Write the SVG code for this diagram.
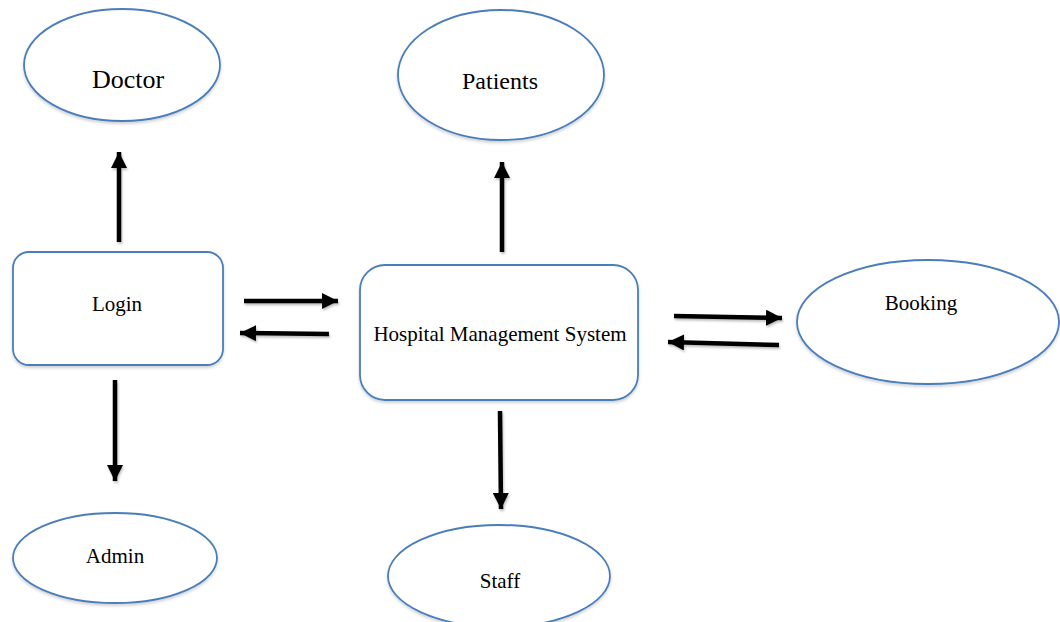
<svg xmlns="http://www.w3.org/2000/svg" width="1060" height="622" viewBox="0 0 1060 622">
<style>
.shape{fill:#fff;stroke:#4a7ebb;stroke-width:1.8;filter:url(#sh)}
.lbl{font-family:"Liberation Serif","Times New Roman",serif;fill:#000;text-anchor:middle;font-size:21px}
.arr{stroke:#000;stroke-width:4.5;fill:none;marker-end:url(#ah)}
</style>
<defs>
<filter id="sh" x="-10%" y="-10%" width="120%" height="130%"><feDropShadow dx="0" dy="2" stdDeviation="1.5" flood-color="#000" flood-opacity="0.18"/></filter>
<filter id="sh2" filterUnits="userSpaceOnUse" x="0" y="0" width="1060" height="622"><feDropShadow dx="1" dy="2" stdDeviation="1.2" flood-color="#000" flood-opacity="0.25"/></filter>
<marker id="ah" markerUnits="userSpaceOnUse" markerWidth="18" markerHeight="16" refX="16" refY="8" orient="auto"><path d="M0,0 L16,8 L0,16 Z" fill="#000"/></marker>
</defs>
<g id="doctor"><ellipse class="shape" cx="122" cy="65" rx="98" ry="56"/><text class="lbl" x="128" y="88" style="font-size:26px">Doctor</text></g>
<g id="patients"><ellipse class="shape" cx="501" cy="75" rx="103" ry="65"/><text class="lbl" x="500" y="89" style="font-size:24px">Patients</text></g>
<g id="login"><rect class="shape" x="13" y="252" width="210" height="113" rx="16"/><text class="lbl" x="117" y="311">Login</text></g>
<g id="hms"><rect class="shape" x="360" y="265" width="278" height="135" rx="25"/><text class="lbl" x="500" y="341">Hospital Management System</text></g>
<g id="booking"><ellipse class="shape" cx="928" cy="322" rx="131" ry="62"/><text class="lbl" x="921" y="310">Booking</text></g>
<g id="admin"><ellipse class="shape" cx="115" cy="558" rx="102" ry="45"/><text class="lbl" x="115" y="563">Admin</text></g>
<g id="staff"><ellipse class="shape" cx="499" cy="576" rx="111" ry="51"/><text class="lbl" x="500" y="588">Staff</text></g>
<g id="connectors" filter="url(#sh2)">
<line class="arr" x1="119" y1="242" x2="119" y2="152"/>
<line class="arr" x1="115" y1="380" x2="115" y2="481"/>
<line class="arr" x1="244" y1="301" x2="338" y2="301"/>
<line class="arr" x1="329" y1="334" x2="240" y2="333"/>
<line class="arr" x1="502" y1="252" x2="502" y2="162"/>
<line class="arr" x1="500" y1="411" x2="501" y2="509"/>
<line class="arr" x1="674" y1="316" x2="782" y2="318"/>
<line class="arr" x1="779" y1="345" x2="668" y2="342"/>
</g>
</svg>
